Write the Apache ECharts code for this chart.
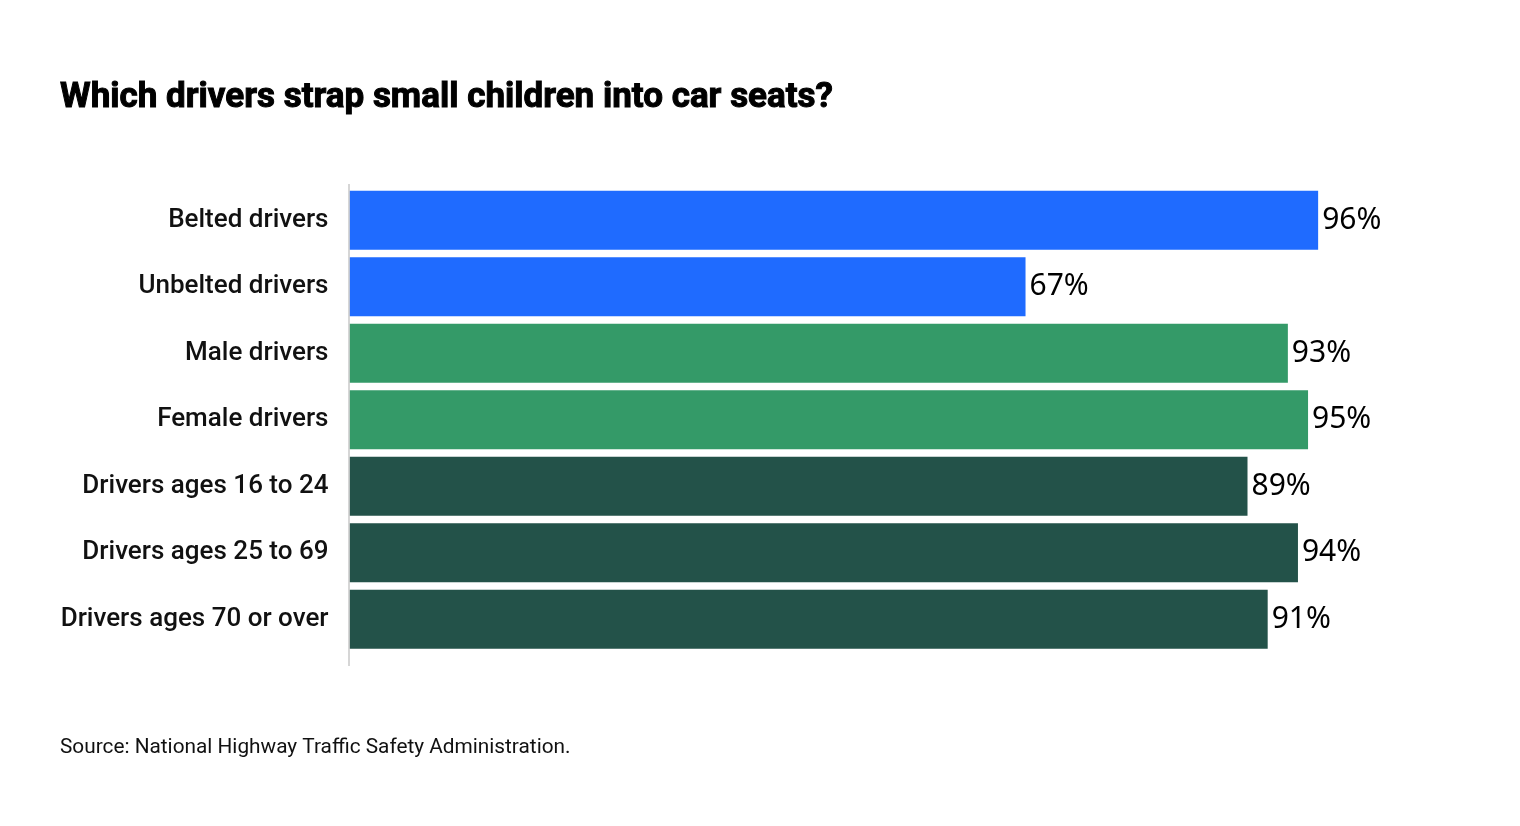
<!DOCTYPE html>
<html>
<head>
<meta charset="utf-8">
<script src="https://cdn.jsdelivr.net/npm/echarts@6/dist/echarts.min.js"></script>
<style>
  html, body { margin: 0; padding: 0; background: #fff; }
  #chart { width: 1520px; height: 826px; }
</style>
</head>
<body>
<div id="chart"></div>
<script>
// categories, top to bottom
var categories = ['Belted drivers', 'Unbelted drivers', 'Male drivers', 'Female drivers',
  'Drivers ages 16 to 24', 'Drivers ages 25 to 69', 'Drivers ages 70 or over'];
// share of drivers (%)
var values = [96, 67, 93, 95, 89, 94, 91];
// colour group of each bar: 0 belt, 1 sex, 2 age
var groups = [0, 0, 1, 1, 2, 2, 2];
var groupColors = ['#1f6bff', '#349a68', '#235249'];

var myChart = echarts.init(document.getElementById('chart'));

var barData = values.map(function (v, i) {
  return { value: v, itemStyle: { color: groupColors[groups[i]] } };
});

var option = {
  animation: false,
  backgroundColor: '#fff',
  title: {
    text: 'Which drivers strap small children into car seats?',
    left: 60,
    top: 81,
    padding: 0,
    textStyle: {
      fontFamily: 'Roboto',
      fontWeight: 'bold',
      fontSize: 35,
      color: '#000',
      textBorderColor: '#000',
      textBorderWidth: 1
    }
  },
  grid: {
    left: 349.5,
    right: 161.5,
    top: 187,
    height: 465.5
  },
  xAxis: {
    type: 'value',
    min: 0,
    max: 100,
    show: false
  },
  yAxis: {
    type: 'category',
    inverse: true,
    data: categories,
    axisLine: { show: false },
    axisTick: { show: false },
    axisLabel: {
      margin: 21,
      fontFamily: 'Roboto',
      fontWeight: 500,
      fontSize: 26,
      color: '#111',
      padding: [8, 0, 0, 0]
    }
  },
  series: [
    {
      type: 'bar',
      data: barData,
      barCategoryGap: '11%',
      label: {
        show: true,
        position: 'right',
        distance: 4,
        formatter: '{c}%',
        fontFamily: 'Noto Sans',
        fontSize: 30,
        color: '#000',
        padding: [3, 0, 0, 0]
      }
    }
  ],
  graphic: [
    //左侧竖线
    {
      type: 'line',
      shape: { x1: 349, y1: 184, x2: 349, y2: 666 },
      style: { stroke: '#c8c8c8', lineWidth: 1.5 },
      z: 10
    },
    {
      type: 'text',
      left: 60,
      top: 737,
      style: {
        text: 'Source: National Highway Traffic Safety Administration.',
        fontFamily: 'Roboto',
        fontSize: 20.8,
        fill: '#111'
      }
    }
  ]
};

myChart.setOption(option);
</script>
</body>
</html>
